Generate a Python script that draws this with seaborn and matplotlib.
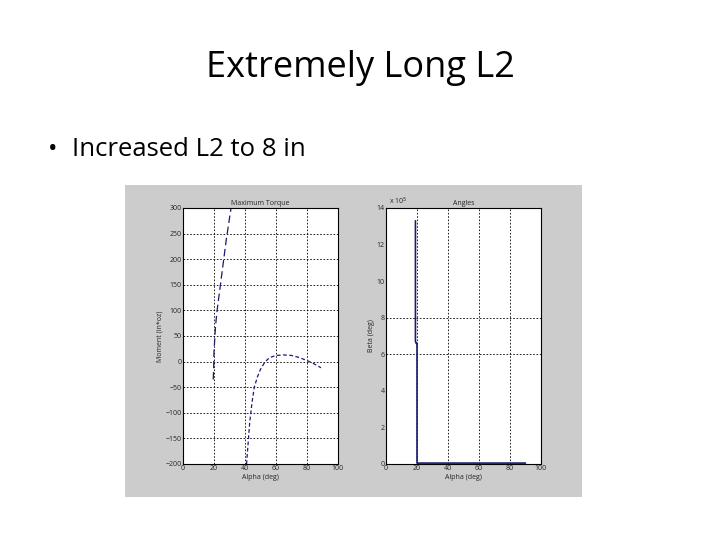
import matplotlib
matplotlib.use("Agg")
import matplotlib.pyplot as plt
import seaborn as sns

sns.set_style("white")
plt.rcParams['font.family'] = ['Open Sans', 'DejaVu Sans']

# Data
torque1_alpha = [19.5, 19.8, 20, 21, 22, 23.5, 25, 26.5, 28, 29.5, 31]
torque1_moment = [-35, -10, 20, 70, 100, 135, 170, 205, 240, 270, 300]
torque2_alpha = [41, 42, 43, 44.5, 46, 48, 50, 53, 56, 60, 65, 70, 75, 80, 85, 89]
torque2_moment = [-200, -160, -120, -80, -50, -30, -15, 0, 8, 12, 13, 12, 8, 2, -5, -12]
beta_alpha = [19, 19, 19.5, 20, 20, 90]
beta_vals = [13.3, 6.7, 6.6, 6.6, 0.05, 0.05]

fig = plt.figure(figsize=(7.2, 5.4), dpi=100)
W, H = 720, 540
fig.text(360/W, 1-68/H, "Extremely Long L2", ha="center", va="center", fontsize=26, color="black")
fig.text(48/W, 1-150/H, "•", ha="left", va="center", fontsize=18, color="black")
fig.text(72/W, 1-150/H, "Increased L2 to 8 in", ha="left", va="center", fontsize=18.5, color="black")

def ax_at(x0, x1, y0, y1):
    return fig.add_axes([x0/W, 1-y1/H, (x1-x0)/W, (y1-y0)/H])

bg = ax_at(125, 582, 185, 497)
bg.set_facecolor("#cccccc")
bg.set_xticks([]); bg.set_yticks([])
for s in bg.spines.values():
    s.set_visible(False)
bg.set_zorder(-1)

fs = 5
navy = "#1a1a6e"
ax1 = ax_at(183, 338, 208, 464)
sns.lineplot(x=torque1_alpha, y=torque1_moment, ax=ax1, color=navy, lw=0.9,
             linestyle=(0, (6, 3)), sort=False, estimator=None)
sns.lineplot(x=torque2_alpha, y=torque2_moment, ax=ax1, color=navy, lw=0.9,
             linestyle=(0, (3, 2)), sort=False, estimator=None)
ax1.set_xlim(0, 100); ax1.set_ylim(-200, 300)
ax1.set_xticks(range(0, 101, 20)); ax1.set_yticks(range(-200, 301, 50))
ax1.set_title("Maximum Torque", fontsize=fs, pad=2)
ax1.set_xlabel("Alpha (deg)", fontsize=fs, labelpad=1)
ax1.set_ylabel("Moment (in*oz)", fontsize=fs, labelpad=1)
ax1.grid(True, color="black", linestyle=(0, (2, 2)), lw=0.6)

ax2 = ax_at(386, 541, 208, 464)
sns.lineplot(x=beta_alpha, y=beta_vals, ax=ax2, color=navy, lw=1.2,
             sort=False, estimator=None)
ax2.set_xlim(0, 100); ax2.set_ylim(0, 14)
ax2.set_xticks(range(0, 101, 20)); ax2.set_yticks(range(0, 15, 2))
ax2.set_title("Angles", fontsize=fs, pad=2)
ax2.set_xlabel("Alpha (deg)", fontsize=fs, labelpad=1)
ax2.set_ylabel("Beta (deg)", fontsize=fs, labelpad=1)
ax2.text(0.02, 1.005, "x 10$^5$", transform=ax2.transAxes, fontsize=fs, va="bottom")
ax2.grid(True, axis="x", color="black", linestyle=(0, (2, 2)), lw=0.6)
for yv in (6, 8):
    ax2.axhline(yv, color="black", linestyle=(0, (2, 2)), lw=0.6, zorder=0.5)

for ax in (ax1, ax2):
    ax.tick_params(labelsize=fs, length=2, width=0.5, pad=1, direction="in")
    for s in ax.spines.values():
        s.set_linewidth(0.8); s.set_color("black")
    ax.set_facecolor("white")

fig.savefig("out.png", dpi=100)
